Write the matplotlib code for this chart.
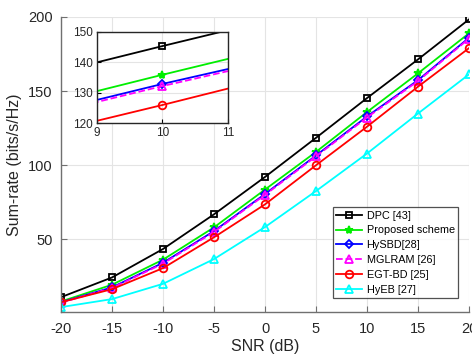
import numpy as np
import matplotlib.pyplot as plt

plt.rcParams['font.family'] = ['Liberation Sans', 'DejaVu Sans']
plt.rcParams['axes.unicode_minus'] = False

# ---- data ----
snr = [-20, -15, -10, -5, 0, 5, 10, 15, 20]
dpc = [11.0, 24.3, 43.5, 66.9, 92.1, 118.5, 145.3, 171.4, 198.4]
proposed = [8.1, 19.4, 36.3, 58.1, 83.6, 109.0, 135.9, 162.0, 189.0]
hysbd = [7.6, 17.6, 34.2, 55.6, 80.6, 106.6, 132.9, 157.4, 186.0]
mglram = [7.3, 17.2, 33.6, 55.0, 80.0, 106.0, 132.2, 156.8, 185.4]
egtbd = [7.6, 16.4, 30.6, 51.4, 73.6, 100.0, 126.0, 153.0, 179.0]
hyeb = [4.3, 9.7, 20.0, 36.7, 58.3, 82.6, 107.9, 134.9, 161.3]

labels = ['DPC [43]', 'Proposed scheme', 'HySBD[28]', 'MGLRAM [26]',
          'EGT-BD [25]', 'HyEB [27]']
series = [dpc, proposed, hysbd, mglram, egtbd, hyeb]
styles = [
    dict(color='black', marker='s', ls='-', mfc='none', ms=5),
    dict(color='#00ee00', marker='*', ls='-', mfc='#00ee00', ms=6),
    dict(color='blue', marker='D', ls='-', mfc='none', ms=4.5),
    dict(color='magenta', marker='^', ls='--', mfc='none', ms=6),
    dict(color='red', marker='o', ls='-', mfc='none', ms=5.5),
    dict(color='cyan', marker='^', ls='-', mfc='none', ms=6),
]

fig = plt.figure(figsize=(4.72, 3.54), dpi=100)
ax = fig.add_axes([61 / 472, 1 - 312 / 354, 408 / 472, 295 / 354])

for y, lab, st in zip(series, labels, styles):
    ax.plot(snr, y, label=lab, lw=1.3, mew=1.3, **st)

ax.set_xlim(-20, 20)
ax.set_ylim(1, 200)
ax.set_xticks(snr)
ax.set_yticks([50, 100, 150, 200])
ax.grid(True, color='#e4e4e4', lw=0.8)
ax.set_axisbelow(True)
for s in ['top', 'right']:
    ax.spines[s].set_visible(False)
for s in ['left', 'bottom']:
    ax.spines[s].set_color('#707070')
    ax.spines[s].set_linewidth(1.0)
ax.tick_params(direction='in', length=4, colors='#707070', labelcolor='#262626',
               labelsize=10.5)
ax.tick_params(axis='x', pad=7)
ax.tick_params(axis='y', pad=6)
ax.set_xlabel('SNR (dB)', fontsize=11.5, color='#262626', labelpad=2)
ax.set_ylabel('Sum-rate (bits/s/Hz)', fontsize=11.5, color='#262626', labelpad=4)

leg = ax.legend(loc='lower right', bbox_to_anchor=(0.973, 0.047), fontsize=7.8,
                frameon=True, fancybox=False, edgecolor='#262626',
                handlelength=2.4, labelspacing=0.45, borderpad=0.3,
                handletextpad=0.4, borderaxespad=0)
leg.get_frame().set_linewidth(0.9)

# ---- inset zoom ----
ins = fig.add_axes([96.7 / 472, 1 - 123.3 / 354, 131.6 / 472, 91.6 / 354])
for y, st in zip(series, styles):
    ins.plot(snr, y, lw=1.3, mew=1.3, **st)
ins.set_xlim(9, 11)
ins.set_ylim(120, 150)
ins.set_xticks([9, 10, 11])
ins.set_yticks([120, 130, 140, 150])
ins.grid(True, color='#e4e4e4', lw=0.8)
ins.set_axisbelow(True)
for s in ins.spines.values():
    s.set_color('#262626')
    s.set_linewidth(1.0)
ins.tick_params(direction='in', length=3, labelsize=8.5, labelcolor='#262626', pad=3)

fig.savefig('out.png', dpi=100)
